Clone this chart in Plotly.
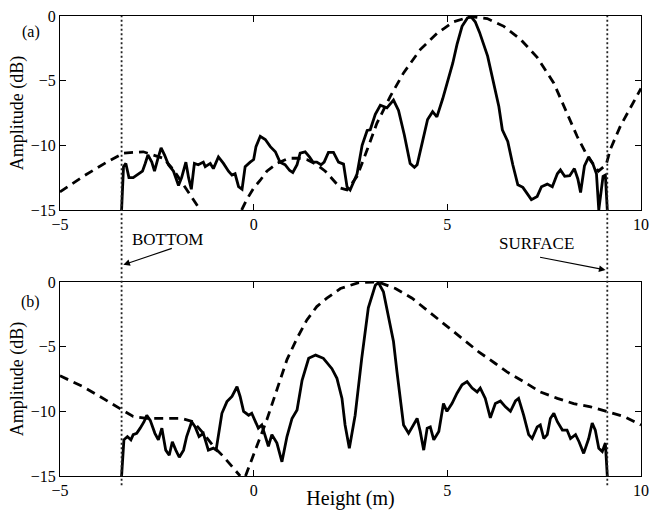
import plotly.graph_objects as go
from plotly.subplots import make_subplots

# Beam-pattern amplitude versus height, two cases (a) and (b)
BOTTOM_H = -3.41   # seabed height (m)
SURFACE_H = 9.13   # sea-surface height (m)

# (a) measured (solid) response
height_a = [-3.41, -3.36, -3.30, -3.22, -3.11, -3.00, -2.87, -2.80, -2.73, -2.63,
            -2.56, -2.48, -2.39, -2.30, -2.20, -2.07, -1.94, -1.86, -1.75, -1.68,
            -1.61, -1.53, -1.43, -1.30, -1.25, -1.12, -1.04, -0.91, -0.78, -0.65,
            -0.56, -0.48, -0.39, -0.30, -0.22, -0.09, 0.00, 0.06, 0.17, 0.30,
            0.43, 0.56, 0.68, 0.81, 0.93, 1.01, 1.12, 1.20, 1.33, 1.44,
            1.53, 1.63, 1.74, 1.82, 1.93, 2.06, 2.19, 2.32, 2.41, 2.49,
            2.67, 2.80, 2.93, 3.01, 3.14, 3.27, 3.44, 3.61, 3.74, 3.89,
            4.04, 4.15, 4.22, 4.36, 4.49, 4.62, 4.73, 4.88, 5.01, 5.14,
            5.25, 5.38, 5.52, 5.61, 5.72, 5.83, 6.04, 6.21, 6.33, 6.42,
            6.56, 6.69, 6.82, 6.95, 7.06, 7.17, 7.32, 7.43, 7.58, 7.71,
            7.84, 7.92, 8.03, 8.16, 8.28, 8.37, 8.44, 8.54, 8.65, 8.76,
            8.85, 8.91, 9.02, 9.08, 9.13]
amp_a = [-15.0, -11.65, -11.4, -12.5, -12.5, -12.3, -12.0, -11.4, -10.75, -11.3,
         -12.0, -11.1, -10.2, -10.75, -11.5, -12.0, -13.1, -12.5, -11.3, -12.5,
         -13.4, -11.4, -11.5, -11.3, -11.65, -11.4, -11.8, -10.9, -11.4, -12.0,
         -12.3, -12.2, -13.2, -13.4, -11.65, -11.3, -11.1, -10.1, -9.3, -9.55,
         -10.1, -10.5, -11.3, -11.5, -11.95, -12.1, -11.5, -10.6, -10.5, -10.9,
         -11.3, -11.3, -11.5, -11.3, -10.55, -10.55, -11.3, -11.45, -13.2, -13.45,
         -12.2, -10.0, -8.85, -8.8, -7.6, -6.9, -7.1, -6.5, -7.3, -9.2,
         -11.4, -11.7, -11.5, -9.7, -8.0, -7.4, -7.8, -6.4, -5.1, -3.65,
         -2.2, -0.8, -0.15, -0.05, -0.45, -1.25, -3.1, -5.3, -7.0, -8.8,
         -9.7, -11.5, -13.05, -13.25, -13.7, -14.2, -13.95, -13.2, -13.0, -13.2,
         -12.2, -11.9, -12.4, -12.35, -11.8, -12.6, -13.65, -11.6, -10.9, -11.45,
         -12.2, -15.0, -12.4, -12.3, -15.0]

# (a) modelled (dashed) beam; None marks the null below the axis
beam_h_a = [-5.00, -4.40, -3.79, -3.36, -2.85, -2.33, -2.07, -1.73, -1.38, None,
            -0.31, -0.18, 0.00, 0.17, 0.34, 0.60, 0.90, 1.12, 1.37, 1.63,
            1.85, 2.06, 2.24, 2.41, 2.67, 2.93, 3.18, 3.53, 3.87, 4.30,
            4.73, 5.16, 5.59, 6.03, 6.46, 6.89, 7.32, 7.75, 8.09, 8.35,
            8.61, 8.90, 9.10, 9.21, 9.47, 9.77, 10.00]
beam_a = [-13.6, -12.4, -11.3, -10.6, -10.5, -11.0, -11.9, -13.45, -15.0, None,
          -15.0, -14.2, -13.3, -12.7, -12.0, -11.4, -11.0, -11.0, -11.1, -11.5,
          -12.0, -12.7, -13.3, -13.45, -12.4, -10.35, -8.3, -6.2, -4.4, -2.6,
          -1.35, -0.45, -0.05, -0.2, -0.8, -1.8, -3.2, -5.2, -7.6, -9.3,
          -10.8, -12.0, -11.5, -10.3, -8.5, -6.8, -5.6]

# (b) measured (solid) response
height_b = [-3.41, -3.35, -3.26, -3.17, -3.11, -3.02, -2.93, -2.83, -2.76, -2.67,
            -2.55, -2.46, -2.37, -2.27, -2.18, -2.10, -2.01, -1.92, -1.81, -1.73,
            -1.60, -1.51, -1.41, -1.30, -1.17, -1.04, -0.97, -0.91, -0.82, -0.69,
            -0.56, -0.43, -0.35, -0.26, -0.13, -0.05, 0.04, 0.12, 0.21, 0.30,
            0.38, 0.47, 0.60, 0.73, 0.86, 0.99, 1.12, 1.25, 1.42, 1.60,
            1.80, 2.02, 2.15, 2.28, 2.36, 2.47, 2.62, 2.79, 2.96, 3.14,
            3.22, 3.35, 3.48, 3.61, 3.70, 3.79, 3.87, 4.00, 4.13, 4.22,
            4.30, 4.39, 4.48, 4.56, 4.65, 4.78, 4.90, 4.99, 5.12, 5.25,
            5.38, 5.51, 5.64, 5.77, 5.85, 5.98, 6.11, 6.24, 6.37, 6.50,
            6.63, 6.76, 6.84, 6.97, 7.10, 7.19, 7.32, 7.40, 7.49, 7.58,
            7.66, 7.75, 7.84, 7.97, 8.09, 8.18, 8.31, 8.40, 8.52, 8.65,
            8.74, 8.82, 8.91, 9.00, 9.08, 9.13]
amp_b = [-15.0, -12.2, -11.95, -12.2, -11.8, -11.7, -11.3, -10.8, -10.3, -10.7,
         -11.7, -12.2, -11.3, -13.0, -13.4, -12.35, -13.0, -13.55, -13.0, -11.95,
         -10.8, -11.2, -11.95, -11.7, -13.0, -12.85, -13.0, -11.7, -10.15, -9.25,
         -8.85, -8.1, -8.85, -10.0, -10.3, -10.15, -10.8, -11.3, -11.05, -11.95,
         -12.7, -11.8, -12.45, -13.9, -11.95, -10.55, -9.9, -7.6, -5.9, -5.65,
         -5.9, -6.7, -7.45, -9.0, -11.05, -12.85, -10.3, -5.9, -2.0, -0.25,
         -0.05, -0.75, -2.55, -4.6, -6.95, -9.25, -11.05, -11.7, -11.05, -10.55,
         -11.55, -13.0, -11.3, -11.2, -12.2, -11.55, -9.4, -10.0, -9.4, -8.6,
         -7.95, -7.7, -8.2, -8.5, -8.2, -9.0, -10.5, -9.4, -9.2, -9.65,
         -10.0, -9.2, -9.0, -10.3, -11.8, -12.1, -11.2, -11.05, -12.1, -11.8,
         -10.55, -10.15, -10.8, -11.45, -11.45, -12.1, -11.8, -12.35, -13.25, -12.1,
         -10.9, -11.45, -12.85, -13.1, -12.45, -15.0]

# (b) modelled (dashed) beam
beam_h_b = [-5.00, -4.40, -3.97, -3.62, -3.36, -3.11, -2.76, -2.24, -1.86, -1.56,
            -1.30, -1.04, -0.78, -0.52, -0.35, None, -0.21, -0.13, 0.08, 0.34,
            0.60, 0.86, 1.12, 1.37, 1.63, 1.89, 2.24, 2.71, 3.22, 3.66,
            4.09, 4.52, 4.95, 5.38, 5.81, 6.24, 6.54, 6.97, 7.40, 7.84,
            8.26, 8.70, 9.13, 9.56, 10.00]
beam_b = [-7.25, -8.1, -8.85, -9.5, -10.0, -10.4, -10.55, -10.55, -10.55, -10.8,
          -11.7, -12.7, -13.5, -14.4, -15.0, None, -15.0, -14.4, -12.7, -10.65,
          -8.35, -6.0, -4.35, -2.95, -1.9, -1.25, -0.5, -0.05, 0.0, -0.5,
          -1.25, -2.3, -3.3, -4.35, -5.4, -6.3, -6.95, -7.7, -8.5, -9.0,
          -9.4, -9.65, -10.0, -10.4, -11.05]

x_ticks = [-5, 0, 5, 10]
y_ticks = [-15, -10, -5, 0]

FONT = "Liberation Serif"
solid = dict(color="black", width=2.8)
dashed = dict(color="black", width=2.8, dash="9px,6px")

fig = make_subplots(rows=2, cols=1)
fig.add_trace(go.Scatter(x=beam_h_a, y=beam_a, mode="lines", line=dashed,
                         connectgaps=False), row=1, col=1)
fig.add_trace(go.Scatter(x=height_a, y=amp_a, mode="lines", line=solid), row=1, col=1)
fig.add_trace(go.Scatter(x=beam_h_b, y=beam_b, mode="lines", line=dashed,
                         connectgaps=False), row=2, col=1)
fig.add_trace(go.Scatter(x=height_b, y=amp_b, mode="lines", line=solid), row=2, col=1)

axis_common = dict(showline=True, linecolor="black", linewidth=1, mirror="ticks",
                   ticks="inside", ticklen=6, tickcolor="black", tickwidth=1,
                   showgrid=False, zeroline=False, automargin=False,
                   tickfont=dict(family=FONT, size=16, color="black"))
for r in (1, 2):
    fig.update_xaxes(range=[-5, 10], tickvals=x_ticks, row=r, col=1, **axis_common)
    fig.update_yaxes(range=[-15, 0], tickvals=y_ticks, row=r, col=1,
                     title=dict(text="Amplitude (dB)", standoff=2,
                                font=dict(family=FONT, size=18, color="black")),
                     **axis_common)
fig.update_xaxes(row=2, col=1,
                 title=dict(text="Height (m)", standoff=6,
                            font=dict(family=FONT, size=20, color="black")))

fig.update_layout(
    width=650, height=510,
    margin=dict(l=60, r=9, t=16, b=34),
    plot_bgcolor="white", paper_bgcolor="white",
    showlegend=False,
    yaxis=dict(domain=[0.5783, 1.0]),
    yaxis2=dict(domain=[0.0, 0.4217]),
)

# Bottom and surface markers spanning both panels
for h in (BOTTOM_H, SURFACE_H):
    fig.add_shape(type="line", xref="x", yref="paper", x0=h, x1=h, y0=-0.02, y1=1.0,
                  line=dict(color="#222222", width=1.8, dash="2px,2.5px"))

txt = dict(family=FONT, size=16, color="black")
fig.add_annotation(text="(a)", xref="paper", yref="paper", x=-0.050, y=0.966,
                   xanchor="center", yanchor="middle", showarrow=False, font=txt)
fig.add_annotation(text="(b)", xref="paper", yref="paper", x=-0.050, y=0.378,
                   xanchor="center", yanchor="middle", showarrow=False, font=txt)

lab = dict(family=FONT, size=17, color="black")
fig.add_annotation(text="BOTTOM", xref="paper", yref="paper", x=0.120, y=0.514,
                   xanchor="left", yanchor="middle", showarrow=False, font=lab)
fig.add_annotation(text="SURFACE", xref="paper", yref="paper", x=0.752, y=0.505,
                   xanchor="left", yanchor="middle", showarrow=False, font=lab)
fig.add_annotation(xref="paper", yref="paper", x=0.109, y=0.459,
                   axref="pixel", ayref="pixel", ax=50, ay=-17,
                   text="", showarrow=True, arrowhead=2, arrowsize=1.2,
                   arrowwidth=1.1, arrowcolor="black")
fig.add_annotation(xref="paper", yref="paper", x=0.939, y=0.448,
                   axref="pixel", ayref="pixel", ax=-67, ay=-13,
                   text="", showarrow=True, arrowhead=2, arrowsize=1.2,
                   arrowwidth=1.1, arrowcolor="black")

fig.write_html("out.html")
